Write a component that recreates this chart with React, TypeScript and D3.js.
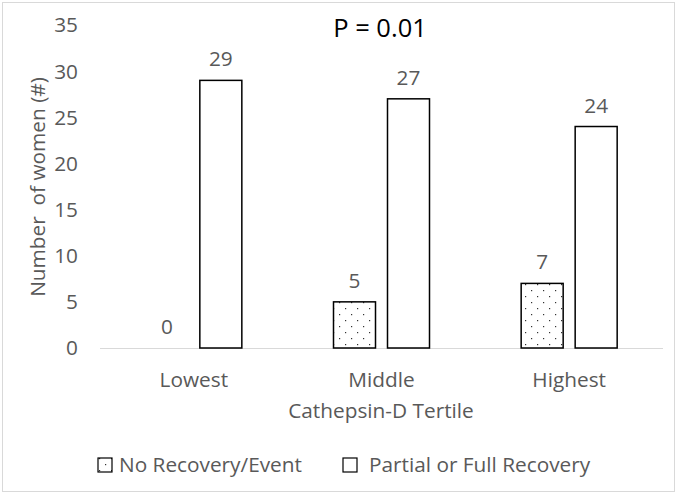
import React from "react";
import * as d3 from "d3";

const categories = ["Lowest", "Middle", "Highest"];
const seriesNames = ["No Recovery/Event", "Partial or Full Recovery"];
const noRecovery = [0, 5, 7];
const recovery = [29, 27, 24];
const yTicks = [0, 5, 10, 15, 20, 25, 30, 35];

const W = 677;
const H = 494;
const FONT = "'Open Sans', 'Noto Sans', sans-serif";
const GRAY = "#595959";
const FS = 20.8;

export default function App() {
  const x = d3.scaleBand<string>().domain(categories).range([100, 663]).paddingInner(0).paddingOuter(0);
  const y = d3.scaleLinear().domain([0, 35]).range([348, 25]);
  const barW = 42;
  const gap = 12;
  const series = [noRecovery, recovery];
  const fills = ["url(#dots)", "#ffffff"];

  return (
    <svg width={W} height={H} style={{ position: "absolute", left: 0, top: 0, background: "#fff" }}>
      <defs>
        <pattern id="dots" width={12} height={12} patternUnits="userSpaceOnUse">
          <rect width={12} height={12} fill="#ffffff" />
          <rect x={3} y={2} width={1.2} height={1.2} fill="#333" />
          <rect x={9} y={8} width={1.2} height={1.2} fill="#333" />
        </pattern>
      </defs>
      <rect x={2.5} y={2.5} width={W - 5} height={H - 5} fill="#fff" stroke="#d9d9d9" strokeWidth={1} />
      <text x={380} y={37} textAnchor="middle" fontFamily={FONT} fontSize={25.5} fill="#000">P = 0.01</text>
      {yTicks.map((t) => (
        <text key={t} x={78} y={y(t)} dy="0.36em" textAnchor="end" fontFamily={FONT} fontSize={FS} fill={GRAY}>{t}</text>
      ))}
      <text transform={`translate(37,${187}) rotate(-90)`} textAnchor="middle" dy="0.36em" fontFamily={FONT} fontSize={FS} fill={GRAY} style={{ whiteSpace: "pre" }}>{"Number  of women (#)"}</text>
      <line x1={100} x2={663} y1={348.5} y2={348.5} stroke="#d9d9d9" strokeWidth={1} />
      {categories.map((c, i) => {
        const cx = (x(c) as number) + x.bandwidth() / 2;
        return (
          <g key={c}>
            {series.map((s, j) => {
              const bx = j === 0 ? cx - gap / 2 - barW : cx + gap / 2;
              const v = s[i];
              return (
                <g key={j}>
                  {v > 0 && (
                    <rect x={bx} y={y(v)} width={barW} height={y(0) - y(v)} fill={fills[j]} stroke="#000" strokeWidth={1.5} />
                  )}
                  <text x={bx + barW / 2} y={y(v) - 14} textAnchor="middle" fontFamily={FONT} fontSize={FS} fill={GRAY}>{v}</text>
                </g>
              );
            })}
            <text x={cx} y={387} textAnchor="middle" fontFamily={FONT} fontSize={FS} fill={GRAY}>{c}</text>
          </g>
        );
      })}
      <text x={381} y={418} textAnchor="middle" fontFamily={FONT} fontSize={FS} fill={GRAY}>Cathepsin-D Tertile</text>
      <g>
        <rect x={98} y={458} width={14} height={14} fill="url(#dots)" stroke="#000" strokeWidth={1.2} />
        <text x={119} y={472} fontFamily={FONT} fontSize={FS} fill={GRAY}>{seriesNames[0]}</text>
        <rect x={343} y={458} width={14} height={14} fill="#fff" stroke="#000" strokeWidth={1.2} />
        <text x={369} y={472} fontFamily={FONT} fontSize={FS} fill={GRAY}>{seriesNames[1]}</text>
      </g>
    </svg>
  );
}
